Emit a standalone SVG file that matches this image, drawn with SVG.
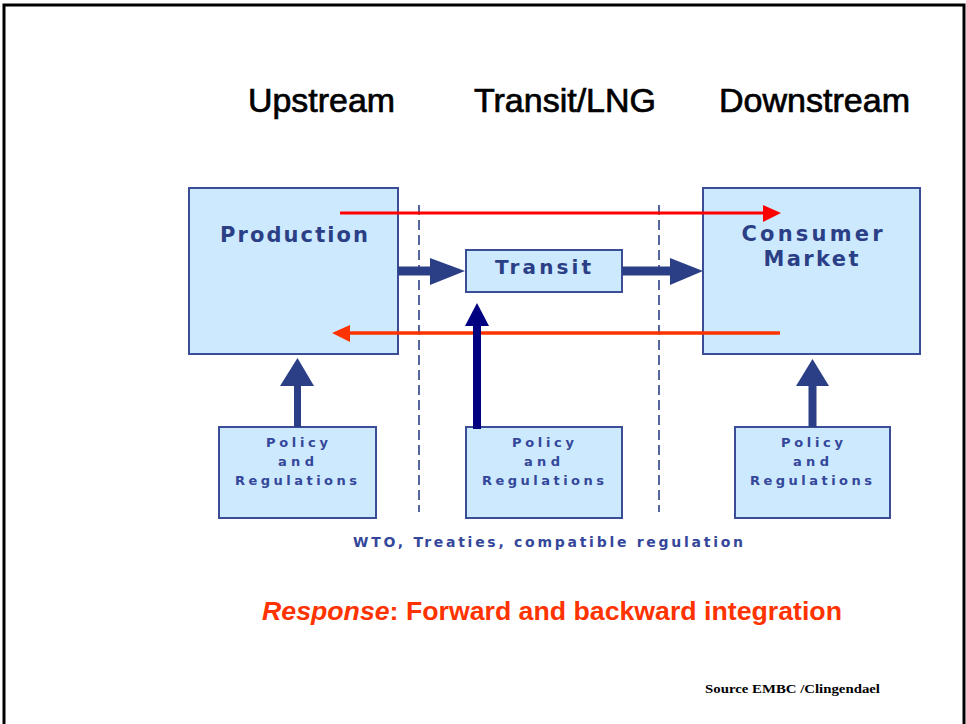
<svg xmlns="http://www.w3.org/2000/svg" width="966" height="724" viewBox="0 0 966 724">
<style>
.box{fill:#cce9fe;stroke:#3a4d96;stroke-width:2}
.bt{font-family:"DejaVu Sans",Verdana,sans-serif;font-weight:bold;fill:#2b3f86;text-anchor:middle}
.pt{font-family:"DejaVu Sans",Verdana,sans-serif;font-weight:bold;font-size:13px;fill:#34479a;text-anchor:middle}
.hd{font-family:"Liberation Sans",Arial,sans-serif;font-size:33px;fill:#000;stroke:#000;stroke-width:0.7}
.dash{stroke:#2b3f86;stroke-width:1.6;stroke-dasharray:10,5;fill:none}
.thick{stroke:#2b3f86;stroke-width:9;fill:none}
.thickhead{fill:#2b3f86}
</style>
<rect x="0" y="0" width="966" height="724" fill="#fff"/>
<path d="M4 724 V5 H964 V724" fill="none" stroke="#000" stroke-width="3"/>

<g id="headings">
<text class="hd" x="248" y="112" textLength="147" lengthAdjust="spacingAndGlyphs">Upstream</text>
<text class="hd" x="474" y="112" textLength="182" lengthAdjust="spacingAndGlyphs">Transit/LNG</text>
<text class="hd" x="719" y="112" textLength="191" lengthAdjust="spacingAndGlyphs">Downstream</text>
</g>

<g id="production">
<rect class="box" x="189" y="188" width="209" height="166"/>
<text class="bt" x="294" y="242" font-size="21" textLength="148" lengthAdjust="spacing">Production</text>
</g>

<g id="transit">
<rect class="box" x="466" y="250" width="156" height="42"/>
<text class="bt" x="543" y="274" font-size="20" textLength="96" lengthAdjust="spacing">Transit</text>
</g>

<g id="consumer">
<rect class="box" x="703" y="188" width="217" height="166"/>
<text class="bt" x="812" y="241" font-size="21" textLength="141" lengthAdjust="spacing">Consumer</text>
<text class="bt" x="811" y="266" font-size="21" textLength="95" lengthAdjust="spacing">Market</text>
</g>

<g id="policy1">
<rect class="box" x="219" y="427" width="157" height="91"/>
<text class="pt" x="297" y="447" textLength="62" lengthAdjust="spacing">Policy</text>
<text class="pt" x="296" y="466" textLength="36" lengthAdjust="spacing">and</text>
<text class="pt" x="296" y="485" textLength="122" lengthAdjust="spacing">Regulations</text>
</g>

<g id="policy2">
<rect class="box" x="466" y="427" width="156" height="91"/>
<text class="pt" x="543" y="447" textLength="62" lengthAdjust="spacing">Policy</text>
<text class="pt" x="542" y="466" textLength="36" lengthAdjust="spacing">and</text>
<text class="pt" x="543" y="485" textLength="122" lengthAdjust="spacing">Regulations</text>
</g>

<g id="policy3">
<rect class="box" x="735" y="427" width="155" height="91"/>
<text class="pt" x="812" y="447" textLength="62" lengthAdjust="spacing">Policy</text>
<text class="pt" x="811" y="466" textLength="36" lengthAdjust="spacing">and</text>
<text class="pt" x="811" y="485" textLength="122" lengthAdjust="spacing">Regulations</text>
</g>

<g id="connectors">
<line class="dash" x1="419" y1="205" x2="419" y2="512"/>
<line class="dash" x1="659" y1="205" x2="659" y2="512"/>

<line x1="340" y1="213" x2="766" y2="213" stroke="#ff0000" stroke-width="3"/>
<polygon points="763,205 781,213 763,222" fill="#ff0000"/>

<line x1="346" y1="333" x2="780" y2="333" stroke="#ff3300" stroke-width="3.5"/>
<polygon points="350,325 332,333 350,342" fill="#ff3300"/>

<line class="thick" x1="398" y1="271" x2="432" y2="271"/>
<polygon class="thickhead" points="430,258 465,271 430,285"/>
<line class="thick" x1="622" y1="271" x2="672" y2="271"/>
<polygon class="thickhead" points="670,258 703,271 670,285"/>

<line x1="297.5" y1="427" x2="297.5" y2="383" stroke="#2b3f86" stroke-width="7"/>
<polygon points="280,386 297.5,358 314,386" fill="#2b3f86"/>

<line x1="812.5" y1="427" x2="812.5" y2="383" stroke="#2b3f86" stroke-width="8"/>
<polygon points="796,386 812.5,359 829,386" fill="#2b3f86"/>

<line x1="477" y1="429" x2="477" y2="323" stroke="#000080" stroke-width="8"/>
<polygon points="465,326 477,303 489,326" fill="#000080"/>
</g>

<g id="notes">
<text class="pt" x="548" y="547" textLength="390" lengthAdjust="spacing" style="font-size:14px">WTO, Treaties, compatible regulation</text>
<text x="262" y="620" font-family="'Liberation Sans',Arial,sans-serif" font-weight="bold" font-size="25" fill="#ff3300" textLength="580" lengthAdjust="spacingAndGlyphs"><tspan font-style="italic">Response</tspan>: Forward and backward integration</text>
<text x="705" y="693" font-family="'Liberation Serif','Times New Roman',serif" font-weight="bold" font-size="12" fill="#000" textLength="175" lengthAdjust="spacingAndGlyphs">Source EMBC /Clingendael</text>
</g>
</svg>
